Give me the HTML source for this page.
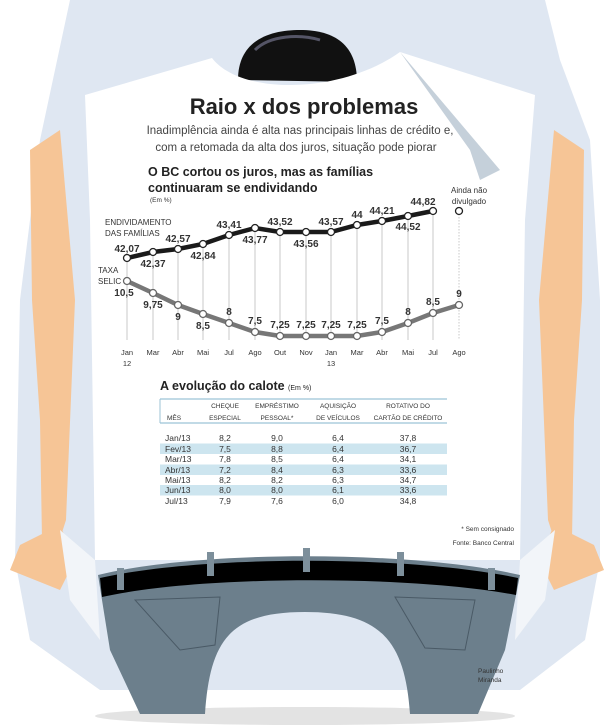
<!DOCTYPE html>
<html><head><meta charset="utf-8"><style>
html,body{margin:0;padding:0;background:#fff;}
svg{display:block;font-family:"Liberation Sans",sans-serif;}
</style></head><body>
<svg width="614" height="726" viewBox="0 0 614 726" xmlns="http://www.w3.org/2000/svg">
<path d="M70,0 L545,0 L560,60 L590,140 L600,300 L600,560 L585,640 L520,690 L100,690 L30,640 L15,560 L20,300 L40,140 Z" fill="#dfe7f2"/>
<path d="M30,150 L60,130 L75,300 L66,520 L58,545 L42,540 L40,420 L32,300 Z" fill="#f6c596"/>
<path d="M584,150 L554,130 L539,300 L548,520 L556,545 L572,540 L574,420 L582,300 Z" fill="#f6c596"/>
<path d="M20,545 L60,525 L75,560 L60,590 L10,570 Z" fill="#f6c596"/>
<path d="M594,545 L554,525 L539,560 L554,590 L604,570 Z" fill="#f6c596"/>
<path d="M238,80 C238,40 270,30 300,30 C335,30 357,45 357,82 Z" fill="#111"/>
<path d="M255,50 C270,35 300,34 320,40" stroke="#556" stroke-width="3" fill="none"/>
<path d="M85,95 L212,58 C240,95 340,95 400,52 L535,95 L525,220 L520,560 L95,560 L90,220 Z" fill="#fff"/>
<path d="M400,52 L470,150 L480,180 L500,170 Z" fill="#c5d0da"/>
<path d="M95,560 L60,530 L70,600 L100,640 Z" fill="#f2f5f9"/>
<path d="M520,560 L555,530 L545,600 L515,640 Z" fill="#f2f5f9"/>
<ellipse cx="305" cy="716" rx="210" ry="9" fill="#e3e3e3"/>
<path d="M98,575 C200,550 410,550 520,575 L505,650 L478,714 L410,714 C405,640 380,612 305,612 C230,612 210,640 205,714 L140,714 L110,650 Z" fill="#6c7f8c"/>
<path d="M100,578 C200,555 410,555 518,578 L516,595 C410,575 200,575 102,597 Z" fill="#000"/>
<rect x="117" y="568" width="7" height="22" fill="#7d8f9b"/>
<rect x="207" y="552" width="7" height="24" fill="#7d8f9b"/>
<rect x="303" y="548" width="7" height="24" fill="#7d8f9b"/>
<rect x="397" y="552" width="7" height="24" fill="#7d8f9b"/>
<rect x="488" y="568" width="7" height="22" fill="#7d8f9b"/>
<path d="M135,600 L220,597 L215,645 L180,650 Z" fill="none" stroke="#4a5a66"/>
<path d="M395,597 L475,600 L465,650 L425,648 Z" fill="none" stroke="#4a5a66"/>
<text x="304" y="114" text-anchor="middle" font-size="22" font-weight="bold" fill="#222">Raio x dos problemas</text>
<text x="300" y="134" text-anchor="middle" font-size="11.5" fill="#444">Inadimplência ainda é alta nas principais linhas de crédito e,</text>
<text x="296" y="151" text-anchor="middle" font-size="11.5" fill="#444">com a retomada da alta dos juros, situação pode piorar</text>
<text x="148" y="176" font-size="12.5" font-weight="bold" fill="#222">O BC cortou os juros, mas as famílias</text>
<text x="148" y="192" font-size="12.5" font-weight="bold" fill="#222">continuaram se endividando</text>
<text x="150" y="202" font-size="6.5" fill="#333">(Em %)</text>
<text x="469" y="193" text-anchor="middle" font-size="8" fill="#333">Ainda não</text>
<text x="469" y="204" text-anchor="middle" font-size="8" fill="#333">divulgado</text>
<text x="105" y="225" font-size="8" fill="#333">ENDIVIDAMENTO</text>
<text x="105" y="236" font-size="8" fill="#333">DAS FAMÍLIAS</text>
<text x="98" y="273" font-size="8" fill="#333">TAXA</text>
<text x="98" y="284" font-size="8" fill="#333">SELIC</text>
<g stroke="#bbb" stroke-width="0.8">
<line x1="127" y1="258" x2="127" y2="340"/><line x1="153" y1="252" x2="153" y2="340"/><line x1="178" y1="249" x2="178" y2="340"/><line x1="203" y1="244" x2="203" y2="340"/><line x1="229" y1="235" x2="229" y2="340"/><line x1="255" y1="228" x2="255" y2="340"/><line x1="280" y1="232" x2="280" y2="340"/><line x1="306" y1="232" x2="306" y2="340"/><line x1="331" y1="232" x2="331" y2="340"/><line x1="357" y1="225" x2="357" y2="340"/><line x1="382" y1="221" x2="382" y2="340"/><line x1="408" y1="216" x2="408" y2="340"/><line x1="433" y1="211" x2="433" y2="340"/>
<line x1="459" y1="211" x2="459" y2="340" stroke-dasharray="1.5,1.5"/>
</g>
<polyline points="127,258 153,252 178,249 203,244 229,235 255,228 280,232 306,232 331,232 357,225 382,221 408,216 433,211" fill="none" stroke="#1a1a1a" stroke-width="4.5"/>
<polyline points="127,281 153,293 178,305 203,314 229,323 255,332 280,336 306,336 331,336 357,336 382,332 408,323 433,313 459,305" fill="none" stroke="#777" stroke-width="4.5"/>
<g fill="#fff" stroke="#222" stroke-width="1.3">
<circle cx="127" cy="258" r="3.5"/><circle cx="153" cy="252" r="3.5"/><circle cx="178" cy="249" r="3.5"/><circle cx="203" cy="244" r="3.5"/><circle cx="229" cy="235" r="3.5"/><circle cx="255" cy="228" r="3.5"/><circle cx="280" cy="232" r="3.5"/><circle cx="306" cy="232" r="3.5"/><circle cx="331" cy="232" r="3.5"/><circle cx="357" cy="225" r="3.5"/><circle cx="382" cy="221" r="3.5"/><circle cx="408" cy="216" r="3.5"/><circle cx="433" cy="211" r="3.5"/><circle cx="459" cy="211" r="3.5"/>
</g>
<g fill="#fff" stroke="#666" stroke-width="1.3">
<circle cx="127" cy="281" r="3.5"/><circle cx="153" cy="293" r="3.5"/><circle cx="178" cy="305" r="3.5"/><circle cx="203" cy="314" r="3.5"/><circle cx="229" cy="323" r="3.5"/><circle cx="255" cy="332" r="3.5"/><circle cx="280" cy="336" r="3.5"/><circle cx="306" cy="336" r="3.5"/><circle cx="331" cy="336" r="3.5"/><circle cx="357" cy="336" r="3.5"/><circle cx="382" cy="332" r="3.5"/><circle cx="408" cy="323" r="3.5"/><circle cx="433" cy="313" r="3.5"/><circle cx="459" cy="305" r="3.5"/>
</g>
<g font-size="10" font-weight="bold" fill="#333" text-anchor="middle">
<text x="127" y="252">42,07</text><text x="153" y="267">42,37</text><text x="178" y="242">42,57</text><text x="203" y="259">42,84</text><text x="229" y="228">43,41</text><text x="255" y="243">43,77</text><text x="280" y="225">43,52</text><text x="306" y="247">43,56</text><text x="331" y="225">43,57</text><text x="357" y="218">44</text><text x="382" y="214">44,21</text><text x="408" y="230">44,52</text><text x="423" y="205">44,82</text>
<text x="124" y="296">10,5</text><text x="153" y="308">9,75</text><text x="178" y="320">9</text><text x="203" y="329">8,5</text><text x="229" y="315">8</text><text x="255" y="324">7,5</text><text x="280" y="328">7,25</text><text x="306" y="328">7,25</text><text x="331" y="328">7,25</text><text x="357" y="328">7,25</text><text x="382" y="324">7,5</text><text x="408" y="315">8</text><text x="433" y="305">8,5</text><text x="459" y="297">9</text>
</g>
<g font-size="7.5" fill="#333" text-anchor="middle">
<text x="127" y="355">Jan</text><text x="127" y="366">12</text><text x="153" y="355">Mar</text><text x="178" y="355">Abr</text><text x="203" y="355">Mai</text><text x="229" y="355">Jul</text><text x="255" y="355">Ago</text><text x="280" y="355">Out</text><text x="306" y="355">Nov</text><text x="331" y="355">Jan</text><text x="331" y="366">13</text><text x="357" y="355">Mar</text><text x="382" y="355">Abr</text><text x="408" y="355">Mai</text><text x="433" y="355">Jul</text><text x="459" y="355">Ago</text>
</g>
<text x="160" y="390" font-size="12.5" font-weight="bold" fill="#222">A evolução do calote <tspan font-size="7" font-weight="normal">(Em %)</tspan></text>
<line x1="160" y1="399" x2="447" y2="399" stroke="#9cc3d6" stroke-width="1.2"/>
<line x1="160" y1="423" x2="447" y2="423" stroke="#9cc3d6" stroke-width="1.2"/>
<line x1="160" y1="399" x2="160" y2="423" stroke="#9cc3d6" stroke-width="1"/>
<g font-size="6.5" fill="#333" text-anchor="middle">
<text x="167" y="420" text-anchor="start">MÊS</text>
<text x="225" y="408">CHEQUE</text><text x="225" y="420">ESPECIAL</text>
<text x="277" y="408">EMPRÉSTIMO</text><text x="277" y="420">PESSOAL*</text>
<text x="338" y="408">AQUISIÇÃO</text><text x="338" y="420">DE VEÍCULOS</text>
<text x="408" y="408">ROTATIVO DO</text><text x="408" y="420">CARTÃO DE CRÉDITO</text>
</g>
<rect x="160" y="443.5" width="287" height="10.5" fill="#cde5ef"/>
<rect x="160" y="464.5" width="287" height="10.5" fill="#cde5ef"/>
<rect x="160" y="485" width="287" height="10.5" fill="#cde5ef"/>
<g font-size="8.5" fill="#333" text-anchor="middle">
<text x="165" y="441" text-anchor="start">Jan/13</text><text x="225" y="441">8,2</text><text x="277" y="441">9,0</text><text x="338" y="441">6,4</text><text x="408" y="441">37,8</text>
<text x="165" y="452" text-anchor="start">Fev/13</text><text x="225" y="452">7,5</text><text x="277" y="452">8,8</text><text x="338" y="452">6,4</text><text x="408" y="452">36,7</text>
<text x="165" y="462" text-anchor="start">Mar/13</text><text x="225" y="462">7,8</text><text x="277" y="462">8,5</text><text x="338" y="462">6,4</text><text x="408" y="462">34,1</text>
<text x="165" y="473" text-anchor="start">Abr/13</text><text x="225" y="473">7,2</text><text x="277" y="473">8,4</text><text x="338" y="473">6,3</text><text x="408" y="473">33,6</text>
<text x="165" y="483" text-anchor="start">Mai/13</text><text x="225" y="483">8,2</text><text x="277" y="483">8,2</text><text x="338" y="483">6,3</text><text x="408" y="483">34,7</text>
<text x="165" y="493" text-anchor="start">Jun/13</text><text x="225" y="493">8,0</text><text x="277" y="493">8,0</text><text x="338" y="493">6,1</text><text x="408" y="493">33,6</text>
<text x="165" y="504" text-anchor="start">Jul/13</text><text x="225" y="504">7,9</text><text x="277" y="504">7,6</text><text x="338" y="504">6,0</text><text x="408" y="504">34,8</text>
</g>
<text x="514" y="531" text-anchor="end" font-size="6.5" fill="#333">* Sem consignado</text>
<text x="514" y="545" text-anchor="end" font-size="6.5" fill="#333">Fonte: Banco Central</text>
<text x="478" y="673" font-size="6.5" fill="#333">Paulinho</text>
<text x="478" y="682" font-size="6.5" fill="#333">Miranda</text>
</svg>
</body></html>
